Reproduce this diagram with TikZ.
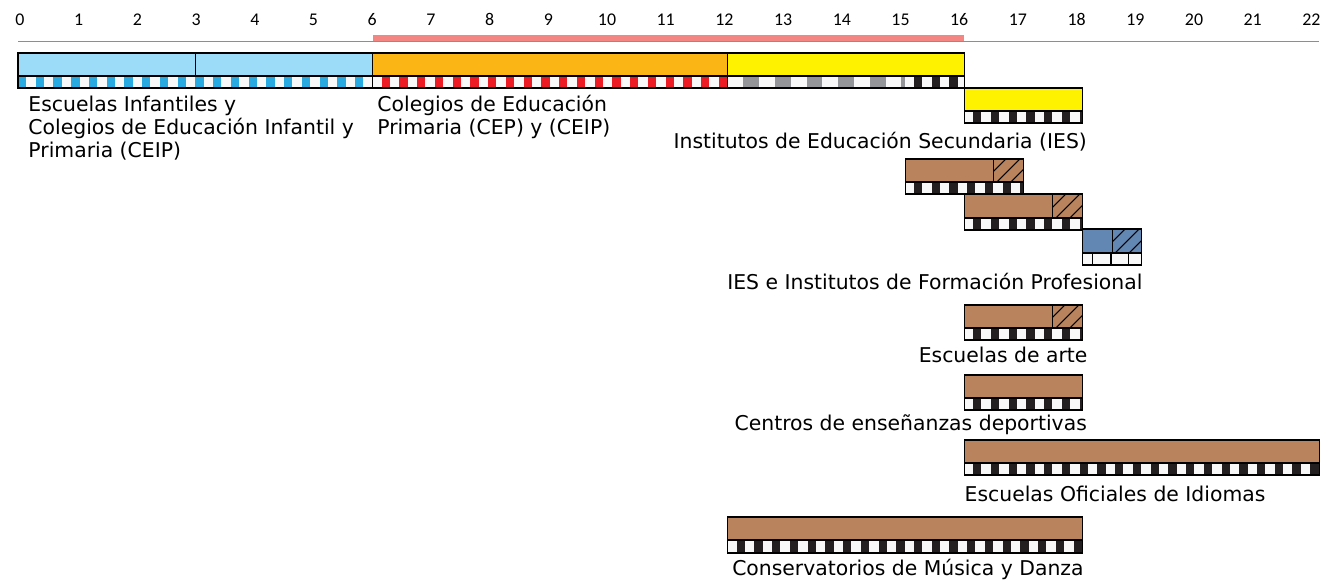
\documentclass[tikz,border=0pt]{standalone}
\usepackage{fontspec}
\setmainfont{DejaVu Sans}
\newfontfamily\agefont{Carlito}
\definecolor{infblue}{HTML}{9DDCF9}
\definecolor{infcell}{HTML}{29AAE1}
\definecolor{priorange}{HTML}{FBB615}
\definecolor{pricell}{HTML}{ED1C24}
\definecolor{secyellow}{HTML}{FFF200}
\definecolor{seccell}{HTML}{939598}
\definecolor{cellblack}{HTML}{231F20}
\definecolor{cellbg}{HTML}{F8F8F8}
\definecolor{fpbrown}{HTML}{B9845D}
\definecolor{supblue}{HTML}{6287B2}
\definecolor{compbar}{HTML}{F38682}
\definecolor{axisblue}{HTML}{5B9BD5}
% hatched end of a bar: lower left corner x, top and bottom y
\newcommand{\hatchend}[3]{%
  \begin{scope}
    \clip (#1,#2) rectangle ({#1+0.5},#3);
    \foreach \s in {-11,3,17}
      \draw[line width=0.5pt] ({#1+\s/59.14},#3) -- ++(0.676,-40);
  \end{scope}
  \draw[line width=0.5pt] (#1,#2) -- (#1,#3);}
\begin{document}
\begin{tikzpicture}[x=1cm, y=-0.016909cm,
    barbox/.style={draw=black, line width=0.55pt},
    cellrow/.style={line width=0.2029cm, dash pattern=on 0.14cm off 0.16cm, dash phase=0.15cm},
    stagelabel/.style={font=\fontsize{9.8}{11.3}\selectfont, inner sep=0pt},
    agelabel/.style={font=\agefont\fontsize{8.6}{10}\selectfont, inner sep=0pt, anchor=base}]
  \useasboundingbox (-0.3044,0) rectangle (22.2015,581);
  % age scale
  \foreach \a in {0,...,22}
    \node[agelabel] (age\a) at ({(2+58.7*\a)/59.14},25) {\a};
  \fill[compbar] (6,35) rectangle (16,42);
  \draw[axisblue, line width=0.75pt] (0,41.5) -- (22,41.5);
  % infantil, primaria, secundaria obligatoria
  \fill[infblue] (0,53) rectangle (6,76);
  \fill[priorange] (6,53) rectangle (12,76);
  \fill[secyellow] (12,53) rectangle (16,76);
  \fill[cellbg] (0,76) rectangle (16,88);
  \draw[cellrow, infcell, dash phase=0cm] (0,82) -- (6,82);
  \draw[cellrow, pricell] (6,82) -- (12,82);
  \draw[cellrow, seccell, dash pattern=on 0.267cm off 0.267cm, dash phase=0.267cm] (12,82) -- (15,82);
  \draw[cellrow, cellblack] (15,82) -- (16,82);
  \draw[barbox] (0,53) rectangle (16,88) (0,76) -- (16,76) (3,53) -- (3,76)
    (6,53) -- (6,88) (12,53) -- (12,88);
  % multi-line labels sit on the baseline of their last line
  \node[stagelabel, anchor=base west, align=left] (infantil) at (0.17,158)
    {Escuelas Infantiles y\\Colegios de Educación Infantil y\\Primaria (CEIP)};
  \node[stagelabel, anchor=base west, align=left] (primaria) at (6.07,135)
    {Colegios de Educación\\Primaria (CEP) y (CEIP)};
  % bachillerato
  \fill[secyellow] (16,88) rectangle (18,111);
  \fill[cellbg] (16,111) rectangle (18,123);
  \draw[cellrow, cellblack] (16,117) -- (18,117);
  \draw[barbox] (16,88) rectangle (18,123) (16,111) -- (18,111);
  \node[stagelabel, anchor=base east] (ies) at (18.08,149) {Institutos de Educación Secundaria (IES)};
  % formacion profesional
  \fill[fpbrown] (15,159) rectangle (17,182);
  \hatchend{16.5}{159}{182}
  \fill[cellbg] (15,182) rectangle (17,194);
  \draw[cellrow, cellblack] (15,188) -- (17,188);
  \draw[barbox] (15,159) rectangle (17,194) (15,182) -- (17,182);
  \fill[fpbrown] (16,194) rectangle (18,218);
  \hatchend{17.5}{194}{218}
  \fill[cellbg] (16,218) rectangle (18,230);
  \draw[cellrow, cellblack] (16,224) -- (18,224);
  \draw[barbox] (16,194) rectangle (18,230) (16,218) -- (18,218);
  \fill[supblue] (18,229) rectangle (19,253);
  \hatchend{18.5}{229}{253}
  \fill[cellbg] (18,253) rectangle (19,265);
  \draw[barbox] (18,229) rectangle (19,265) (18,253) -- (19,253);
  \draw[line width=0.5pt] (18.17,253) -- (18.17,265) (18.78,253) -- (18.78,265);
  \draw[line width=1pt] (18.48,253) -- (18.48,265);
  \node[stagelabel, anchor=base east] (fp) at (19.02,290) {IES e Institutos de Formación Profesional};
  % ensenanzas de regimen especial
  \fill[fpbrown] (16,305) rectangle (18,328);
  \hatchend{17.5}{305}{328}
  \fill[cellbg] (16,328) rectangle (18,340);
  \draw[cellrow, cellblack] (16,334) -- (18,334);
  \draw[barbox] (16,305) rectangle (18,340) (16,328) -- (18,328);
  \node[stagelabel, anchor=base east] (arte) at (18.09,362.7) {Escuelas de arte};
  \fill[fpbrown] (16,375) rectangle (18,398);
  \fill[cellbg] (16,398) rectangle (18,410);
  \draw[cellrow, cellblack] (16,404) -- (18,404);
  \draw[barbox] (16,375) rectangle (18,410) (16,398) -- (18,398);
  \node[stagelabel, anchor=base east] (deporte) at (18.08,431) {Centros de enseñanzas deportivas};
  \fill[fpbrown] (16,440) rectangle (22,463);
  \fill[cellbg] (16,463) rectangle (22,475);
  \draw[cellrow, cellblack] (16,469) -- (22,469);
  \draw[barbox] (16,440) rectangle (22,475) (16,463) -- (22,463);
  \node[stagelabel, anchor=base west] (idiomas) at (16.0,502) {Escuelas Oficiales de Idiomas};
  \fill[fpbrown] (12,517) rectangle (18,540);
  \fill[cellbg] (12,540) rectangle (18,553);
  \draw[cellrow, cellblack] (12,546.5) -- (18,546.5);
  \draw[barbox] (12,517) rectangle (18,553) (12,540) -- (18,540);
  \node[stagelabel, anchor=base west] (musica) at (12.07,576) {Conservatorios de Música y Danza};
\end{tikzpicture}
\end{document}
